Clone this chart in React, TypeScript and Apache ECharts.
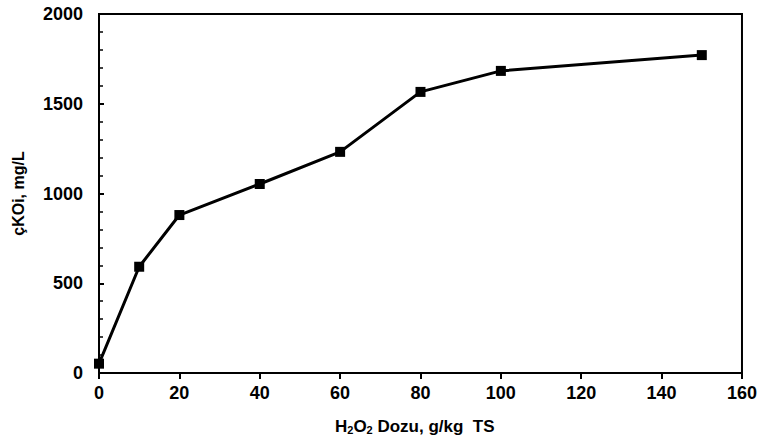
import React, { useEffect, useRef } from "react";
import * as echarts from "echarts";

const doses = [0, 10, 20, 40, 60, 80, 100, 150];
const codValues = [52, 592, 880, 1053, 1232, 1566, 1683, 1771];
const xMin = 0;
const xMax = 160;
const yMin = 0;
const yMax = 2000;
const yName = "çKOi, mg/L";

export default function App() {
  const ref = useRef<HTMLDivElement>(null);
  useEffect(() => {
    if (!ref.current) return;
    document.body.style.margin = "0";
    const chart = echarts.init(ref.current, null, { renderer: "svg" });
    const font = "'Liberation Sans', Arial, sans-serif";
    chart.setOption({
      animation: false,
      backgroundColor: "#ffffff",
      grid: {
        left: 99,
        right: 18,
        top: 14,
        bottom: 71,
        show: true,
        borderColor: "#000000",
        borderWidth: 2,
        backgroundColor: "rgba(0,0,0,0)",
      },
      xAxis: {
        type: "value",
        min: xMin,
        max: xMax,
        interval: 20,
        axisLine: { show: true, onZero: false, lineStyle: { color: "#000", width: 2 } },
        axisTick: { show: true, inside: false, length: 6, lineStyle: { color: "#000", width: 2 } },
        axisLabel: { color: "#000", fontFamily: font, fontWeight: "bold", fontSize: 18, margin: 11 },
        splitLine: { show: false },
      },
      yAxis: {
        type: "value",
        min: yMin,
        max: yMax,
        interval: 500,
        name: yName,
        nameLocation: "middle",
        nameGap: 73,
        nameRotate: 90,
        nameTextStyle: { color: "#000", fontFamily: font, fontWeight: "bold", fontSize: 16 },
        axisLine: { show: true, onZero: false, lineStyle: { color: "#000", width: 2 } },
        axisTick: { show: true, inside: true, length: 5, lineStyle: { color: "#000", width: 2 } },
        minorTick: { show: true, splitNumber: 5, length: 4, lineStyle: { color: "#000", width: 1.5 } },
        axisLabel: {
          color: "#000",
          fontFamily: font,
          fontWeight: "bold",
          fontSize: 18,
          margin: 16,
          formatter: (v: number) => String(v),
        },
        splitLine: { show: false },
      },
      graphic: [
        {
          type: "text",
          left: 335,
          top: 418,
          style: {
            text: "{a|H}{s|2}{a|O}{s|2}{a| Dozu, g/kg  TS}",
            rich: {
              a: { fontFamily: font, fontWeight: "bold", fontSize: 17, fill: "#000" },
              s: { fontFamily: font, fontWeight: "bold", fontSize: 11, fill: "#000", padding: [7, 0, 0, 0] },
            },
          },
        },
      ],
      series: [
        {
          type: "line",
          name: "cod",
          data: doses.map((d, i) => [d, codValues[i]]),
          symbol: "rect",
          symbolSize: 10,
          lineStyle: { color: "#000", width: 3 },
          itemStyle: { color: "#000" },
          z: 3,
        },
      ],
    });
    return () => chart.dispose();
  }, []);
  return <div ref={ref} style={{ width: 760, height: 444 }} />;
}
